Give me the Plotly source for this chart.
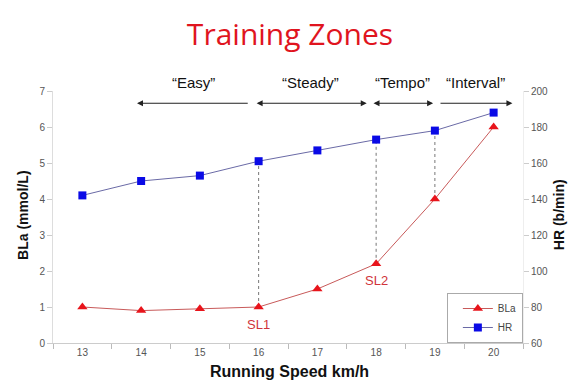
import plotly.graph_objects as go

speed = [13, 14, 15, 16, 17, 18, 19, 20]
bla = [1.0, 0.9, 0.95, 1.0, 1.5, 2.2, 4.0, 6.0]
hr = [142, 150, 153, 161, 167, 173, 178, 188]

zone_names = ["\u201cEasy\u201d", "\u201cSteady\u201d", "\u201cTempo\u201d", "\u201cInterval\u201d"]
zone_from = [13.93, 15.94, 17.93, 19.07]
zone_to = [15.84, 17.84, 18.97, 20.32]
zone_heads = ["start", "end+start", "end+start", "end"]

threshold_speeds = [16, 18, 19]
threshold_labels = {16: "SL1", 18: "SL2"}

hr_min, hr_max = 60, 200
bla_min, bla_max = 0, 7


def hr_to_bla(v):
    return bla_min + (v - hr_min) * (bla_max - bla_min) / (hr_max - hr_min)


fig = go.Figure()

fig.add_trace(go.Scatter(
    x=speed, y=bla, name="BLa", mode="lines+markers",
    line=dict(color="#c85a5a", width=1),
    marker=dict(symbol="triangle-up", size=9, color="#e8141b"),
    yaxis="y", cliponaxis=False,
))
fig.add_trace(go.Scatter(
    x=speed, y=hr, name="HR", mode="lines+markers",
    line=dict(color="#6a6aa6", width=1),
    marker=dict(symbol="square", size=8, color="#0a0ae6"),
    yaxis="y2", cliponaxis=False,
))

# vertical dotted threshold lines
for s in threshold_speeds:
    i = speed.index(s)
    fig.add_shape(type="line", xref="x", yref="y",
                  x0=s, x1=s, y0=bla[i], y1=hr_to_bla(hr[i]),
                  line=dict(color="#777777", width=1, dash="dot"), layer="below")
    if s in threshold_labels:
        fig.add_annotation(x=s, y=bla[i], xref="x", yref="y",
                           text=threshold_labels[s], showarrow=False,
                           yshift=-17, font=dict(family="Liberation Sans", size=13, color="#d0343a"))

# zone arrows and labels
arrow_y = 6.66
for name, a, b, heads in zip(zone_names, zone_from, zone_to, zone_heads):
    if heads == "start":
        x_head, x_tail, side = a, b, "end"
    else:
        x_head, x_tail, side = b, a, heads
    fig.add_annotation(x=x_head, y=arrow_y, ax=x_tail, ay=arrow_y,
                       xref="x", yref="y", axref="x", ayref="y",
                       text="", showarrow=True, arrowhead=2, startarrowhead=2,
                       arrowside=side, arrowsize=1, arrowwidth=1.2, arrowcolor="#222222",
                       standoff=0, startstandoff=0)
    fig.add_annotation(x=(a + b) / 2, y=1.032, xref="x", yref="paper", text=name,
                       showarrow=False, yanchor="middle",
                       font=dict(family="Liberation Sans", size=15, color="#111111"))

# axis titles
fig.add_annotation(x=0.504, y=-0.115, xref="paper", yref="paper", showarrow=False,
                   text="<b>Running Speed km/h</b>", yanchor="middle",
                   font=dict(family="Liberation Sans", size=16, color="#111111"))
fig.add_annotation(x=-0.064, y=0.508, xref="paper", yref="paper", showarrow=False,
                   text="<b>BLa (mmol/L)</b>", textangle=-90, xanchor="center", yanchor="middle",
                   font=dict(family="Liberation Sans", size=14, color="#111111"))
fig.add_annotation(x=1.077, y=0.508, xref="paper", yref="paper", showarrow=False,
                   text="<b>HR (b/min)</b>", textangle=-90, xanchor="center", yanchor="middle",
                   font=dict(family="Liberation Sans", size=14, color="#111111"))

tick_font = dict(family="Liberation Sans", size=10, color="#555555")

fig.update_layout(
    width=572, height=384,
    margin=dict(l=45, r=57, t=83, b=49, autoexpand=False),
    paper_bgcolor="white", plot_bgcolor="white",
    title=dict(text="Training Zones", x=0.493, xanchor="center", y=0.93, yanchor="middle",
               font=dict(family="Open Sans", size=30, color="#e0141e")),
    xaxis=dict(
        range=[12.5, 20.5], tickvals=speed, ticks="", showgrid=False, zeroline=False,
        showline=True, linecolor="#cccccc", linewidth=1, tickfont=tick_font, automargin=False,
        minor=dict(tick0=12.5, dtick=1, ticks="outside", ticklen=5, tickcolor="#bbbbbb", showgrid=False),
    ),
    yaxis=dict(
        range=[bla_min, bla_max], dtick=1, ticks="outside", ticklen=5, tickcolor="#cccccc",
        showgrid=False, zeroline=False, showline=True, linecolor="#dddddd", tickfont=tick_font,
        automargin=False,
    ),
    yaxis2=dict(
        range=[hr_min, hr_max], dtick=20, ticks="outside", ticklen=5, tickcolor="#cccccc",
        showgrid=False, zeroline=False, showline=True, linecolor="#eeeeee", tickfont=tick_font,
        overlaying="y", side="right", automargin=False,
    ),
    legend=dict(x=0.838, y=0.0, xanchor="left", yanchor="bottom",
                bordercolor="#aaaaaa", borderwidth=1, bgcolor="white",
                font=dict(family="Liberation Sans", size=10, color="#444444"),
                tracegroupgap=0, itemwidth=30, entrywidth=42, indentation=10),
    showlegend=True,
)

fig.write_html("out.html")
